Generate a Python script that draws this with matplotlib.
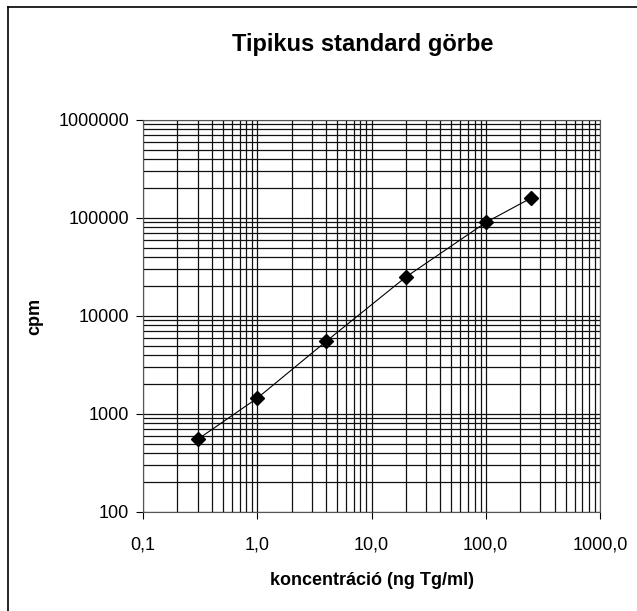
import matplotlib
matplotlib.use("Agg")
import matplotlib.pyplot as plt
from matplotlib.ticker import FixedLocator, FixedFormatter, LogLocator, NullFormatter
from matplotlib.lines import Line2D

conc = [0.3, 1.0, 4.0, 20.0, 100.0, 250.0]
cpm = [550, 1450, 5500, 25000, 90000, 160000]
x_ticks = [0.1, 1, 10, 100, 1000]
x_labels = ["0,1", "1,0", "10,0", "100,0", "1000,0"]
y_ticks = [100, 1000, 10000, 100000, 1000000]
y_labels = ["100", "1000", "10000", "100000", "1000000"]

plt.rcParams['font.family'] = ['Liberation Sans', 'DejaVu Sans']

fig = plt.figure(figsize=(6.37, 6.11), dpi=100)
ax = fig.add_axes([143/637, 1-512/611, (600-143)/637, (512-120)/611])

ax.set_xscale('log')
ax.set_yscale('log')
ax.set_xlim(0.1, 1000)
ax.set_ylim(100, 1000000)

ax.plot(conc, cpm, color='black', lw=0.8, marker='D', markersize=7.5,
        markerfacecolor='black', markeredgecolor='black', zorder=3)

ax.xaxis.set_major_locator(FixedLocator(x_ticks))
ax.xaxis.set_major_formatter(FixedFormatter(x_labels))
ax.yaxis.set_major_locator(FixedLocator(y_ticks))
ax.yaxis.set_major_formatter(FixedFormatter(y_labels))
ax.xaxis.set_minor_locator(LogLocator(base=10, subs=range(2, 10)))
ax.yaxis.set_minor_locator(LogLocator(base=10, subs=range(2, 10)))
ax.xaxis.set_minor_formatter(NullFormatter())
ax.yaxis.set_minor_formatter(NullFormatter())

ax.grid(True, which='both', color='#111111', lw=0.9)
ax.set_axisbelow(True)
ax.tick_params(which='major', direction='out', length=5, width=0.8, labelsize=13, pad=5)
ax.tick_params(axis='x', which='major', pad=13)
ax.tick_params(which='minor', length=0)
for s in ax.spines.values():
    s.set_color('#555555')
    s.set_linewidth(0.8)

ax.set_xlabel('koncentráció (ng Tg/ml)', fontsize=13, fontweight='bold', labelpad=13)
ax.set_ylabel('cpm', fontsize=13, fontweight='bold', labelpad=11)
fig.text(363/637, 1-45/611, 'Tipikus standard görbe', ha='center', va='center',
         fontsize=17, fontweight='bold')

fig.add_artist(Line2D([8/637, 8/637], [0, 1-7/611], transform=fig.transFigure, color='black', lw=1.2))
fig.add_artist(Line2D([8/637, 1], [1-7/611, 1-7/611], transform=fig.transFigure, color='black', lw=1.2))

fig.savefig('out.png', dpi=100)
